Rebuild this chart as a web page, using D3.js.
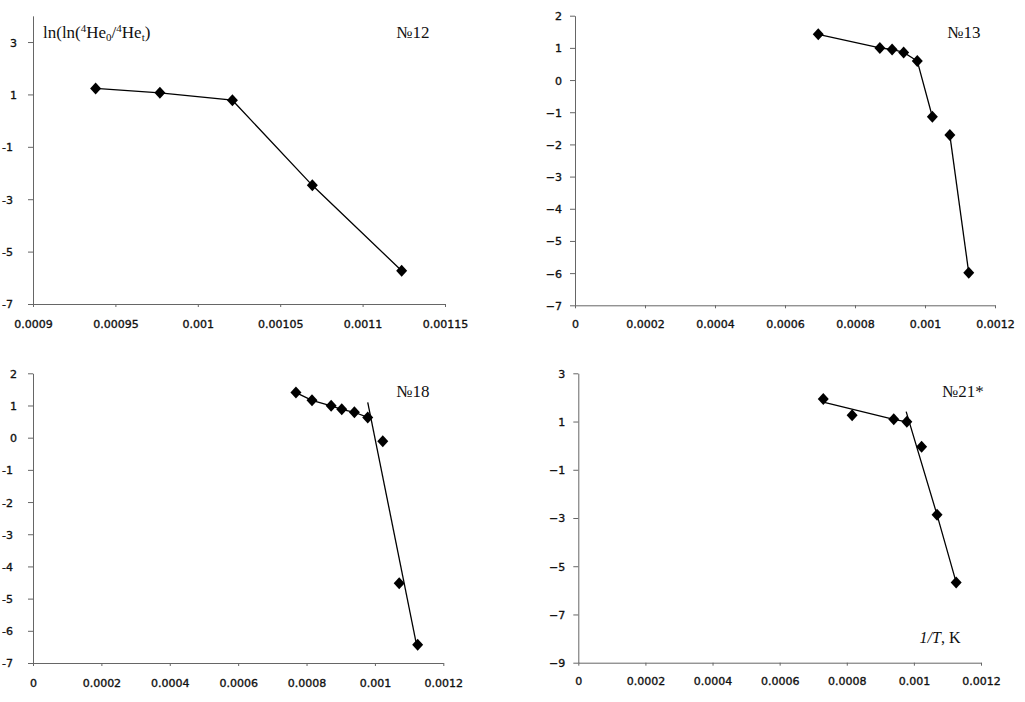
<!DOCTYPE html>
<html><head><meta charset="utf-8">
<script src="https://cdn.jsdelivr.net/npm/d3@7"></script>
<style>
html,body{margin:0;padding:0;background:#fff;}
svg{display:block;}
.tick text{font-family:"DejaVu Sans",sans-serif;font-size:11px;fill:#111;stroke:#111;stroke-width:0.35px;}
.lbl{font-family:"Liberation Serif",serif;fill:#111;}
</style></head>
<body>
<svg id="c" width="1025" height="702"></svg>
<script>
// ---- data ----
const p12X = [0.000938, 0.000977, 0.001021, 0.0010695, 0.0011237];
const p12Y = [1.23, 1.06, 0.78, -2.47, -5.73];
const p13X = [0.000695, 0.000871, 0.000906, 0.000939, 0.000978, 0.001021, 0.001071, 0.001125];
const p13Y = [1.42, 1.00, 0.95, 0.86, 0.59, -1.14, -1.71, -5.99];
const p18X = [0.000769, 0.000816, 0.000872, 0.000903, 0.000940, 0.000979, 0.001023, 0.001071, 0.001125];
const p18Y = [1.40, 1.16, 0.99, 0.88, 0.79, 0.63, -0.11, -4.52, -6.43];
const p21X = [0.000730, 0.000816, 0.000940, 0.000979, 0.001023, 0.001069, 0.001126];
const p21Y = [1.93, 1.26, 1.09, 0.99, -0.05, -2.87, -5.67];

// fitted / connecting lines
const line12 = [[0.000938,1.23],[0.000977,1.06],[0.001021,0.78],[0.0010695,-2.47],[0.0011237,-5.73]];
const line13a = [[0.000695,1.42],[0.000871,1.00],[0.000906,0.95],[0.000939,0.86],[0.000978,0.59],[0.001021,-1.14]];
const line13b = [[0.001071,-1.71],[0.001125,-5.99]];
const line18a = [[0.000769,1.40],[0.000816,1.16],[0.000872,0.99],[0.000903,0.88],[0.000940,0.79],[0.000979,0.63]];
const line18b = [[0.000979,1.10],[0.001120,-6.34]];
const line21a = [[0.000730,1.80],[0.000940,1.09],[0.000979,0.99]];
const line21b = [[0.000977,1.41],[0.001069,-2.87],[0.001126,-5.67]];

// ticks
const xTicksA = [0.0009,0.00095,0.001,0.00105,0.0011,0.00115];
const xLabelsA = ["0.0009","0.00095","0.001","0.00105","0.0011","0.00115"];
const xTicksB = [0,0.0002,0.0004,0.0006,0.0008,0.001,0.0012];
const xLabelsB = ["0","0.0002","0.0004","0.0006","0.0008","0.001","0.0012"];
const yTicks12 = [3,1,-1,-3,-5,-7];
const yTicks13 = [2,1,0,-1,-2,-3,-4,-5,-6,-7];
const yTicks18 = [2,1,0,-1,-2,-3,-4,-5,-6,-7];
const yTicks21 = [3,1,-1,-3,-5,-7,-9];

const panels = [
  {xs:p12X, ys:p12Y, lines:[line12], xd:[0.0009,0.00115], xr:[33,445], yd:[-7,4], yr:[304,15.85],
   xt:xTicksA, xl:xLabelsA, yt:yTicks12, lblY:328, left:true, name:"№12", nx:413, ny:38},
  {xs:p13X, ys:p13Y, lines:[line13a,line13b], xd:[0,0.0012], xr:[575,995], yd:[-7,2], yr:[305.3,15.7],
   xt:xTicksB, xl:xLabelsB, yt:yTicks13, lblY:328, left:false, name:"№13", nx:964, ny:38},
  {xs:p18X, ys:p18Y, lines:[line18a,line18b], xd:[0,0.0012], xr:[33,443.3], yd:[-7,2], yr:[663,373.3],
   xt:xTicksB, xl:xLabelsB, yt:yTicks18, lblY:687, left:true, name:"№18", nx:413, ny:397},
  {xs:p21X, ys:p21Y, lines:[line21a,line21b], xd:[0,0.0012], xr:[578.3,981], yd:[-9,3], yr:[662.7,373.3],
   xt:xTicksB, xl:xLabelsB, yt:yTicks21, lblY:685, left:false, name:"№21*", nx:963, ny:397}
];

const svg = d3.select("#c");
const diamond = {draw(ctx,size){const h=6,w=5.5;ctx.moveTo(0,-h);ctx.lineTo(w,0);ctx.lineTo(0,h);ctx.lineTo(-w,0);ctx.closePath();}};

panels.forEach(p=>{
  const x = d3.scaleLinear().domain(p.xd).range(p.xr);
  const y = d3.scaleLinear().domain(p.yd).range(p.yr);
  const g = svg.append("g");
  const xa = g.append("g").attr("transform",`translate(0,${p.yr[0]})`)
    .call(d3.axisBottom(x).tickValues(p.xt).tickFormat((d,i)=>p.xl[i]).tickSizeInner(3).tickSizeOuter(0));
  xa.selectAll("text").attr("y", null).attr("dy",null).attr("transform",`translate(0,${p.lblY-p.yr[0]})`);
  const fmt = p.left ? (d=>d<0?"-"+Math.abs(d):String(d)) : (d=>d<0?"−"+Math.abs(d):String(d));
  const ya = g.append("g").attr("transform",`translate(${p.xr[0]},0)`)
    .call(d3.axisLeft(y).tickValues(p.yt).tickFormat(fmt).tickSizeInner(5).tickSizeOuter(0));
  ya.selectAll("text").attr("x",(d)=> p.left ? (d<0?-20:-16) : -13).attr("dy","0.36em");
  [xa,ya].forEach(a=>{a.select(".domain").attr("stroke","#666");a.selectAll(".tick line").attr("stroke","#666");});
  const ln = d3.line().x(d=>x(d[0])).y(d=>y(d[1]));
  p.lines.forEach(L=>g.append("path").attr("d",ln(L)).attr("fill","none").attr("stroke","#000").attr("stroke-width",1.3));
  g.selectAll(".m").data(p.xs.map((v,i)=>[v,p.ys[i]])).join("path")
    .attr("transform",d=>`translate(${x(d[0])},${y(d[1])})`)
    .attr("d",d3.symbol().type(diamond)).attr("fill","#000");
  g.append("text").attr("class","lbl").attr("x",p.nx).attr("y",p.ny).attr("text-anchor","middle")
    .attr("font-size",17).text(p.name);
});

// y label panel 1
const t = svg.append("text").attr("class","lbl").attr("x",43).attr("y",38).attr("font-size",17);
t.append("tspan").text("ln(ln(");
t.append("tspan").attr("font-size",11).attr("dy",-6).text("4");
t.append("tspan").attr("dy",6).text("He");
t.append("tspan").attr("font-size",11).attr("dy",3).text("0");
t.append("tspan").attr("dy",-3).text("/");
t.append("tspan").attr("font-size",11).attr("dy",-6).text("4");
t.append("tspan").attr("dy",6).text("He");
t.append("tspan").attr("font-size",11).attr("dy",3).text("t");
t.append("tspan").attr("dy",-3).text(")");

// x label panel 4
const u = svg.append("text").attr("class","lbl").attr("x",940).attr("y",643).attr("text-anchor","middle").attr("font-size",16);
u.append("tspan").attr("font-style","italic").text("1/T");
u.append("tspan").text(", K");
</script>
</body></html>
